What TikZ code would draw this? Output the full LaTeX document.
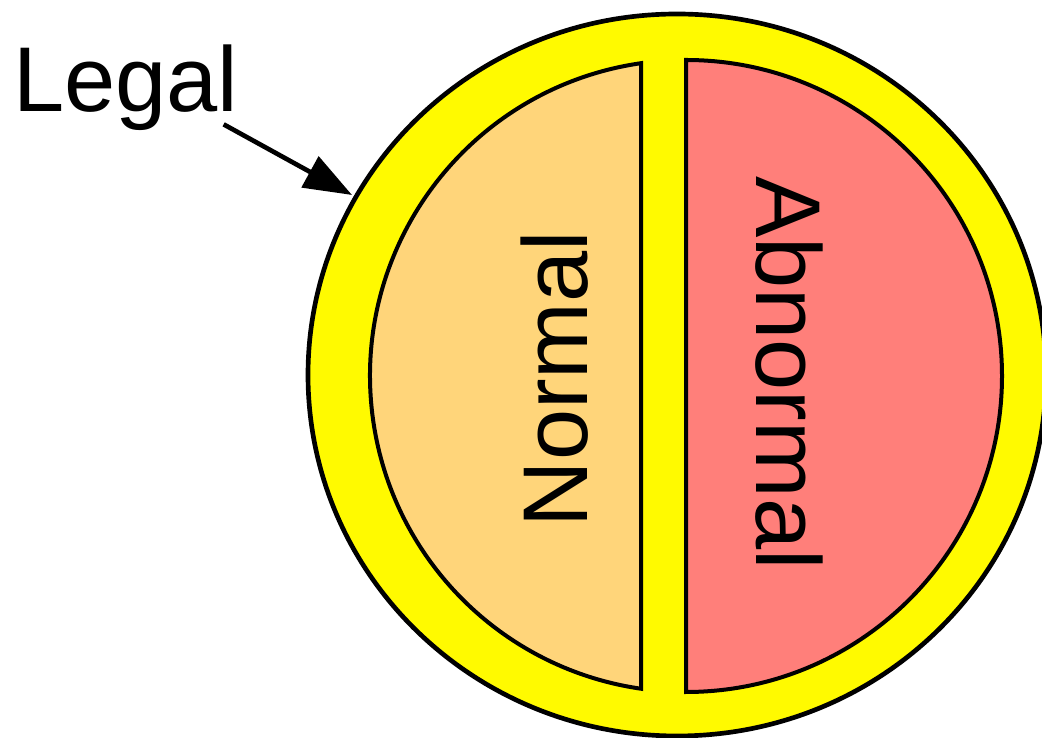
\documentclass[tikz,border=0pt]{standalone}
\usepackage{fontspec}
\setmainfont{Liberation Sans}
\usetikzlibrary{arrows.meta}
\definecolor{ringyellow}{HTML}{FFFA00}
\definecolor{normalfill}{HTML}{FFD57A}
\definecolor{abnormalfill}{HTML}{FF7F7A}
\begin{document}
\begin{tikzpicture}[x=0.75pt,y=0.75pt,
  ring/.style={draw=black, fill=ringyellow, line width=3.5pt},
  region/.style={draw=black, line width=3pt, line join=miter},
  txt/.style={font=\fontsize{69}{80}\selectfont, inner sep=0pt},
  pointer/.style={line width=3.5pt, -{Triangle[length=36pt,width=26pt]}}]
\useasboundingbox (0,0) rectangle (1042,738);
\clip (0,0) rectangle (1042,738);
% outer ring
\draw[ring] (677,363) ellipse [x radius=276.75pt, y radius=270.75pt];
% left half (Normal)
\draw[region, fill=normalfill] (641,674.8) arc[start angle=98.19, end angle=261.81, radius=237pt] -- cycle;
% right half (Abnormal)
\draw[region, fill=abnormalfill] (686,678) arc[start angle=90, end angle=-90, radius=237pt] -- cycle;
% labels
\node[txt, rotate=90] (normal) at (554.5,359) {Normal};
\node[txt, rotate=-90] (abnormal) at (789.5,365) {Abnormal};
\node[txt, anchor=base west] (legal) at (13,626) {Legal};
\coordinate (tip) at (352,543);
\draw[pointer] ([shift={(-15,7)}]legal.south east) -- (tip);
\end{tikzpicture}
\end{document}
